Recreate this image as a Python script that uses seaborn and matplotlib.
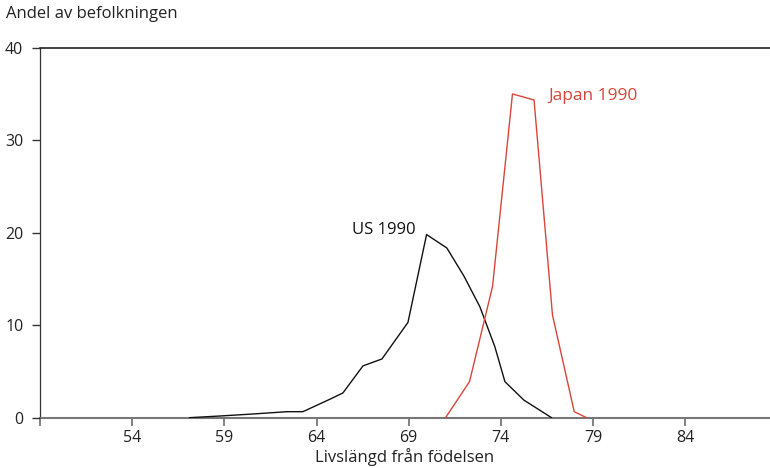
import matplotlib
matplotlib.use("Agg")
import matplotlib.pyplot as plt
import seaborn as sns
import pandas as pd

# Share of population by life expectancy at birth, 1990
us_age = [57.1, 58.9, 60.55, 62.4, 63.26, 64.73, 65.43, 66.52, 67.55, 68.96,
          69.97, 71.07, 72.0, 72.86, 73.67, 74.22, 75.25, 76.75]
us_share = [0.0, 0.2, 0.4, 0.65, 0.65, 2.0, 2.67, 5.6, 6.35, 10.3,
            19.8, 18.35, 15.3, 12.0, 7.7, 3.9, 1.9, 0.0]

jp_age = [71.0, 72.3, 73.55, 74.63, 75.8, 76.8, 77.98, 78.65]
jp_share = [0.0, 3.9, 14.2, 35.0, 34.35, 11.1, 0.65, 0.0]

x_ticks = [54, 59, 64, 69, 74, 79, 84]
y_ticks = [0, 10, 20, 30, 40]

series_names = ["US 1990", "Japan 1990"]
series_colors = ["#111111", "#d9453a"]

df = pd.concat([
    pd.DataFrame({"age": us_age, "share": us_share, "series": series_names[0]}),
    pd.DataFrame({"age": jp_age, "share": jp_share, "series": series_names[1]}),
])

sns.set_style("ticks")
plt.rcParams["font.family"] = ["Open Sans", "DejaVu Sans"]

fig = plt.figure(figsize=(7.7, 4.68), dpi=100)
ax = fig.add_axes([40 / 770, 1 - 417.7 / 468, 1 - 40 / 770, (417.7 - 47.7) / 468])

sns.lineplot(data=df, x="age", y="share", hue="series", hue_order=series_names,
             palette=series_colors, linewidth=1.0, legend=False, sort=False,
             estimator=None, ax=ax)

ax.set_xlim(49, 88.6)
ax.set_ylim(0, 40)
ax.set_xticks(x_ticks)
ax.set_xticks([49], minor=True)
ax.set_yticks(y_ticks)
ax.set_xticklabels([str(t) for t in x_ticks], fontsize=11.5)
ax.set_yticklabels([str(t) for t in y_ticks], fontsize=11.5)

ax.spines["right"].set_visible(False)
ax.spines["top"].set_visible(True)
ax.spines["top"].set_color("#111111")
ax.spines["top"].set_linewidth(1.1)
ax.spines["left"].set_color("#333333")
ax.spines["left"].set_linewidth(0.9)
ax.spines["bottom"].set_color("#777777")
ax.spines["bottom"].set_linewidth(1.5)
for sp in ax.spines.values():
    sp.set_zorder(0.5)

ax.tick_params(axis="x", which="both", direction="out", length=6, width=1.3,
               color="#777777", pad=3, labelcolor="#222222")
ax.tick_params(axis="y", direction="out", length=6, width=1.0,
               color="#333333", pad=6, labelcolor="#222222")

ax.set_xlabel("Livslängd från födelsen", fontsize=12, color="#222222", labelpad=1)
ax.set_ylabel("")
fig.text(6 / 770, 1 - 14 / 468, "Andel av befolkningen", fontsize=12,
         color="#222222", ha="left", va="center")

ax.text(69.35, 20.3, series_names[0], fontsize=12, color=series_colors[0],
        ha="right", va="center")
ax.text(76.6, 34.8, series_names[1], fontsize=12.5, color=series_colors[1],
        ha="left", va="center")

ax.set_facecolor("white")
fig.patch.set_facecolor("white")
fig.savefig("out.png", dpi=100)
